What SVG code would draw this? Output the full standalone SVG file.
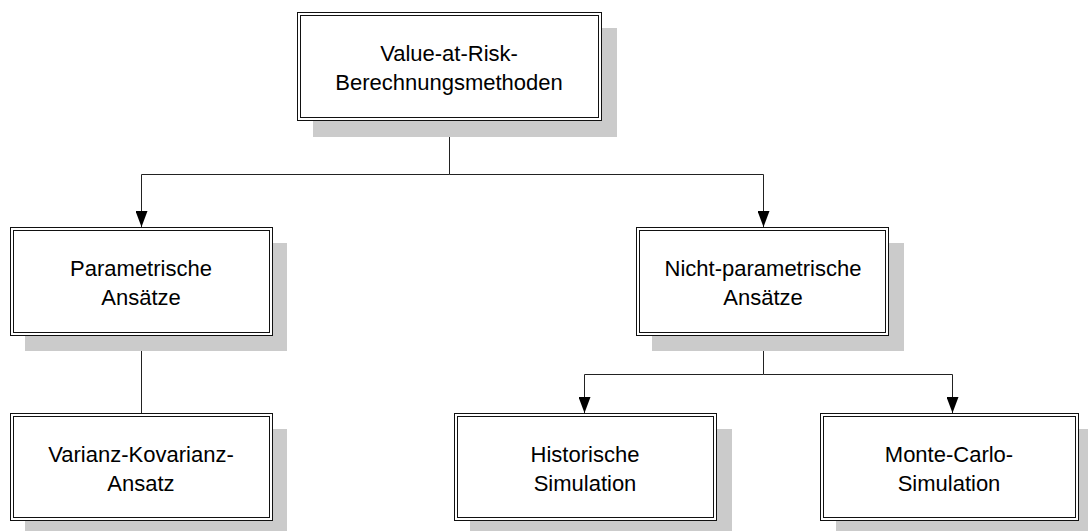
<svg xmlns="http://www.w3.org/2000/svg" width="1088" height="531" viewBox="0 0 1088 531">
<defs>
<marker id="arr" viewBox="0 0 16 12" refX="16" refY="6" markerWidth="16" markerHeight="12" markerUnits="userSpaceOnUse" orient="auto">
<path d="M0,0 L16,6 L0,12 Z" fill="#000"/>
</marker>
<style>
.sh{fill:#cbcbcb}
.bx{fill:#fff;stroke:#111;stroke-width:1}
.in{fill:none;stroke:#111;stroke-width:1}
.t{font-family:"Liberation Sans",Arial,sans-serif;font-size:22px;fill:#000;text-anchor:middle}
.c{fill:none;stroke:#222;stroke-width:1}
</style>
</defs>
<rect width="1088" height="531" fill="#fff"/>
<g id="connectors">
<path class="c" d="M449.5,120 V174.5 H141.5 V227" marker-end="url(#arr)"/>
<path class="c" d="M449.5,174.5 H763.5 V227" marker-end="url(#arr)"/>
<path class="c" d="M141.5,335 V413"/>
<path class="c" d="M763.5,335 V374.5 H584.5 V413" marker-end="url(#arr)"/>
<path class="c" d="M763.5,374.5 H952.5 V413" marker-end="url(#arr)"/>
</g>
<g id="n-root">
<rect class="sh" x="313" y="28" width="304" height="109"/>
<rect class="bx" x="297.5" y="12.5" width="304" height="108"/>
<rect class="in" x="300.5" y="15.5" width="298" height="102"/>
<text class="t" x="449" y="61">Value-at-Risk-</text>
<text class="t" x="449" y="90">Berechnungsmethoden</text>
</g>
<g id="n-param">
<rect class="sh" x="25" y="243" width="262" height="108"/>
<rect class="bx" x="10.5" y="227.5" width="262" height="108"/>
<rect class="in" x="13.5" y="230.5" width="256" height="102"/>
<text class="t" x="141" y="276">Parametrische</text>
<text class="t" x="141" y="305">Ansätze</text>
</g>
<g id="n-nonparam">
<rect class="sh" x="652" y="243" width="252" height="108"/>
<rect class="bx" x="636.5" y="227.5" width="252" height="108"/>
<rect class="in" x="639.5" y="230.5" width="246" height="102"/>
<text class="t" x="763" y="276">Nicht-parametrische</text>
<text class="t" x="763" y="305">Ansätze</text>
</g>
<g id="n-varianz">
<rect class="sh" x="25" y="429" width="262" height="108"/>
<rect class="bx" x="10.5" y="413.5" width="262" height="107"/>
<rect class="in" x="13.5" y="416.5" width="256" height="101"/>
<text class="t" x="141" y="462">Varianz-Kovarianz-</text>
<text class="t" x="141" y="491">Ansatz</text>
</g>
<g id="n-hist">
<rect class="sh" x="470" y="429" width="262" height="108"/>
<rect class="bx" x="454.5" y="413.5" width="262" height="107"/>
<rect class="in" x="457.5" y="416.5" width="256" height="101"/>
<text class="t" x="585" y="462">Historische</text>
<text class="t" x="585" y="491">Simulation</text>
</g>
<g id="n-mc">
<rect class="sh" x="836" y="429" width="252" height="108"/>
<rect class="bx" x="820.5" y="413.5" width="258" height="107"/>
<rect class="in" x="823.5" y="416.5" width="252" height="101"/>
<text class="t" x="949" y="462">Monte-Carlo-</text>
<text class="t" x="949" y="491">Simulation</text>
</g>
</svg>
